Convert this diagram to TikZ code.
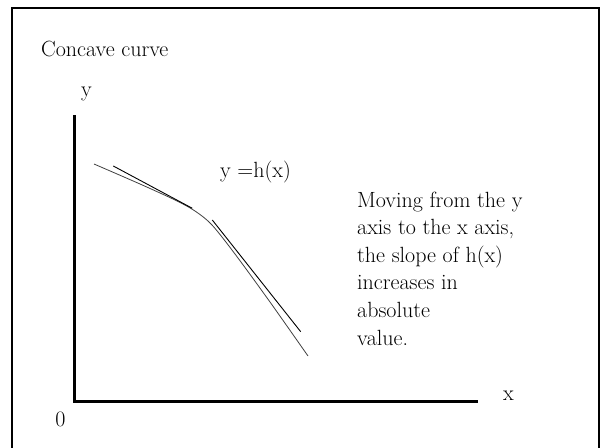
\documentclass[tikz,border=0pt]{standalone}
\usepackage{fontspec}
\usetikzlibrary{positioning}

\begin{document}
\begin{tikzpicture}[x=1pt, y=-1pt, font=\fontsize{22}{27.6}\selectfont,
  axis/.style={line width=3pt},
  tangent/.style={line width=0.9pt},
  lbl/.style={inner sep=0pt, anchor=base}]
  \useasboundingbox (0,0) rectangle (602,447);
  \clip (0,0) rectangle (602,447);
  \draw[line width=2pt] (11.5,7.5) rectangle (598.5,470);

  \node[lbl, anchor=base west] (title) at (41,56) {Concave curve};

  % axes
  \coordinate (origin) at (74,401);
  \coordinate (ytop) at (74,115);
  \coordinate (xend) at (478,401);
  \draw[axis] (ytop) -- (origin) -- (xend);
  \node[lbl] (ylabel) at (86.5,96) {y};
  \node[lbl] (xlabel) at (508.5,400) {x};
  \node[lbl] (zero) at (60.5,426) {0};

  % the curve and two tangents
  \draw[line width=0.8pt, black!75] plot[smooth] coordinates
    {(94,164) (140,184) (175,200) (195,211) (212,225) (235,254) (270,302) (308,356)};
  \coordinate (t1a) at (113.3,166);
  \coordinate (t1b) at (192.3,208.3);
  \coordinate (t2a) at (212.3,220);
  \coordinate (t2b) at (300.7,331.7);
  \draw[tangent] (t1a) -- (t1b);
  \draw[tangent] (t2a) -- (t2b);

  \node[lbl, anchor=base west] (hlabel) at (220,177) {y =h(x)};
  % base of a multi-line node is its last line
  \node[lbl, anchor=base west, align=left] (note) at (357,345)
    {Moving from the y\\axis to the x axis,\\the slope of h(x)\\increases in\\absolute\\value.};
\end{tikzpicture}
\end{document}
